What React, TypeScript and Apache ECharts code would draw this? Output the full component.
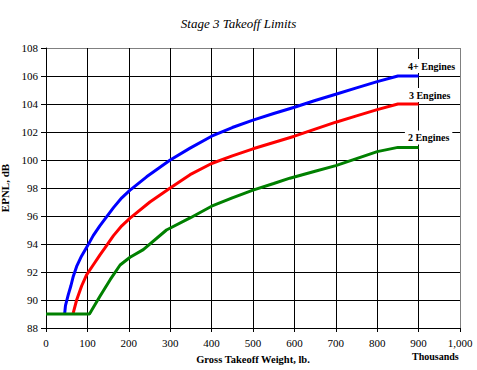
import React, { useEffect, useRef } from "react";
import * as echarts from "echarts";

const TITLE = "Stage 3 Takeoff Limits";
const X_NAME = "Gross Takeoff Weight, lb.";
const X_UNIT = "Thousands";
const Y_NAME = "EPNL, dB";

const fourName = "4+ Engines";
const fourWeights = [45, 47, 54, 60, 66, 74, 86, 100, 114, 130, 163, 183, 203, 243, 300, 348, 400, 450, 500, 550, 600, 650, 700, 750, 800, 850, 900];
const fourEpnl = [89.0, 89.6, 90.4, 91.0, 91.7, 92.4, 93.15, 93.85, 94.6, 95.3, 96.6, 97.3, 97.85, 98.8, 100.0, 100.85, 101.7, 102.32, 102.85, 103.32, 103.77, 104.25, 104.7, 105.15, 105.6, 106.0, 106.0];

const threeName = "3 Engines";
const threeWeights = [65, 66, 74, 86, 98, 114, 130, 142, 163, 183, 203, 251, 300, 348, 400, 450, 500, 550, 600, 650, 700, 750, 800, 850, 900];
const threeEpnl = [89.0, 89.1, 90.0, 91.0, 91.8, 92.5, 93.2, 93.7, 94.6, 95.3, 95.85, 97.0, 98.0, 98.95, 99.75, 100.3, 100.8, 101.25, 101.7, 102.2, 102.7, 103.15, 103.6, 104.0, 104.0];

const twoName = "2 Engines";
const twoWeights = [0, 105, 130, 155, 179, 203, 235, 291, 348, 400, 450, 500, 550, 589, 650, 700, 750, 800, 850, 900];
const twoEpnl = [89.0, 89.0, 90.25, 91.45, 92.5, 93.05, 93.6, 95.0, 95.86, 96.7, 97.3, 97.85, 98.32, 98.7, 99.2, 99.6, 100.1, 100.6, 100.9, 100.9];

const FONT = "Liberation Serif";

const gridColors = ["#000", "#000", "#000", "#000", "#000", "#000", "#000", "#000", "#000", "#000", "#808080"];

function pairs(xs: number[], ys: number[]) {
  return xs.map((x, i) => [x, ys[i]]);
}

function makeSeries(name: string, xs: number[], ys: number[], color: string, offset: number[]) {
  return {
    name,
    type: "line",
    data: pairs(xs, ys),
    symbol: "none",
    lineStyle: { color, width: 3 },
    itemStyle: { color },
    endLabel: {
      show: true,
      formatter: name,
      distance: 0,
      offset,
      align: "center",
      verticalAlign: "middle",
      color: "#000",
      fontFamily: FONT,
      fontWeight: "bold",
      fontSize: 10,
      backgroundColor: "#fff",
      padding: [2, 3],
    },
  };
}

export default function App() {
  const ref = useRef<HTMLDivElement>(null);
  useEffect(() => {
    if (!ref.current) return;
    const chart = echarts.init(ref.current, null, { renderer: "svg" });
    chart.setOption({
      animation: false,
      backgroundColor: "#fff",
      title: {
        text: TITLE,
        left: "center",
        top: 12,
        textStyle: { fontFamily: FONT, fontStyle: "italic", fontWeight: "normal", fontSize: 13, color: "#000" },
      },
      grid: { left: 46, right: 17, top: 48, bottom: 42, containLabel: false, outerBoundsMode: "none" },
      xAxis: {
        type: "value",
        min: 0,
        max: 1000,
        interval: 100,
        name: X_NAME,
        nameLocation: "middle",
        nameGap: 26,
        nameTextStyle: { fontFamily: FONT, fontWeight: "bold", fontSize: 10.5, color: "#000" },
        axisLine: { show: true, lineStyle: { color: "#000", width: 1 } },
        axisTick: { show: true, length: 4, lineStyle: { color: "#000" } },
        axisLabel: {
          margin: 9,
          fontFamily: FONT,
          fontSize: 11,
          color: "#000",
          formatter: (v: number) => v.toLocaleString("en-US"),
        },
        splitLine: { show: true, lineStyle: { color: gridColors, width: 1 } },
      },
      yAxis: {
        type: "value",
        min: 88,
        max: 108,
        interval: 2,
        name: Y_NAME,
        nameLocation: "middle",
        nameGap: 28,
        nameRotate: 90,
        nameTextStyle: { fontFamily: FONT, fontWeight: "bold", fontSize: 11, color: "#000" },
        axisLine: { show: true, lineStyle: { color: "#000", width: 1 } },
        axisTick: { show: true, length: 5, lineStyle: { color: "#000" } },
        axisLabel: { margin: 8, fontFamily: FONT, fontSize: 11, color: "#000" },
        splitLine: { show: true, lineStyle: { color: gridColors, width: 1 } },
      },
      graphic: [
        {
          type: "text",
          left: 412,
          top: 351,
          style: { text: X_UNIT, fontFamily: FONT, fontWeight: "bold", fontSize: 10, fill: "#000" },
        },
      ],
      series: [
        makeSeries(fourName, fourWeights, fourEpnl, "#0000ff", [13, -10]),
        makeSeries(threeName, threeWeights, threeEpnl, "#ff0000", [11, -9]),
        makeSeries(twoName, twoWeights, twoEpnl, "#008000", [10, -10]),
      ],
    });
    return () => chart.dispose();
  }, []);
  return <div ref={ref} style={{ position: "fixed", left: 0, top: 0, width: 477, height: 370 }} />;
}
